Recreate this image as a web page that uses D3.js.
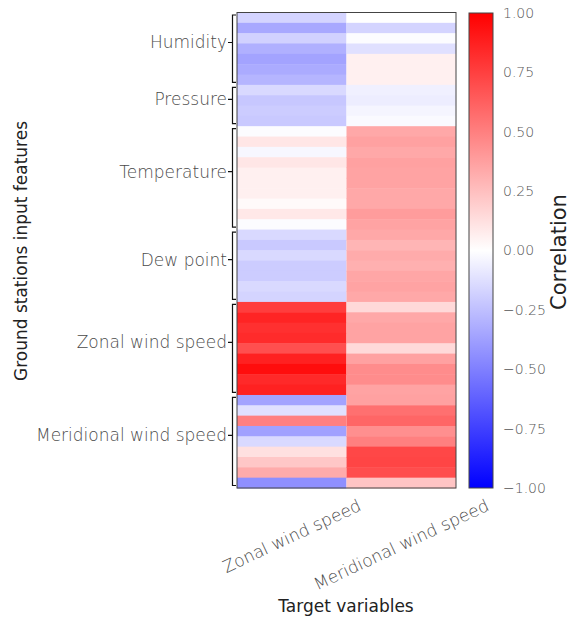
<!DOCTYPE html>
<meta charset="utf-8">
<style>
body { margin: 0; background: #fff; }
text { font-family: "DejaVu Sans", sans-serif; }
.tick-lab { fill: #4a4a4a; font-size: 17px; font-weight: 200; }
.cb-lab { fill: #555; font-size: 14px; font-weight: 200; }
.title { fill: #222; font-size: 17px; }
</style>
<svg width="571" height="619"></svg>
<script src="https://d3js.org/d3.v7.min.js"></script>
<script>

// target variables (columns)
var targets = ["Zonal wind speed", "Meridional wind speed"];

// feature groups (rows), each with a number of stations
var groups = ["Humidity", "Pressure", "Temperature", "Dew point", "Zonal wind speed", "Meridional wind speed"];
var groupSizes = [7, 4, 10, 7, 9, 9];

// correlation with zonal wind speed, top to bottom
var zonalCorr = [
  -0.17, -0.34, -0.18, -0.31, -0.36, -0.33, -0.29,
  -0.15, -0.22, -0.20, -0.21,
  -0.01, 0.10, -0.03, 0.10, 0.06, 0.06, 0.06, 0.02, 0.09, -0.01,
  -0.15, -0.21, -0.15, -0.20, -0.20, -0.15, -0.17,
  0.76, 0.86, 0.81, 0.83, 0.69, 0.87, 0.95, 0.84, 0.87,
  -0.36, -0.12, 0.50, -0.37, -0.15, 0.12, 0.22, 0.33, -0.44
];

// correlation with meridional wind speed, top to bottom
var meridionalCorr = [
  0.00, -0.17, -0.01, -0.12, 0.06, 0.06, 0.06,
  -0.06, -0.07, -0.04, -0.02,
  0.34, 0.37, 0.34, 0.37, 0.36, 0.36, 0.34, 0.34, 0.39, 0.36,
  0.34, 0.29, 0.33, 0.31, 0.35, 0.36, 0.34,
  0.15, 0.34, 0.36, 0.36, 0.15, 0.37, 0.45, 0.45, 0.36,
  0.37, 0.56, 0.60, 0.44, 0.50, 0.72, 0.73, 0.70, 0.23
];

var colorTicks = [1, 0.75, 0.5, 0.25, 0, -0.25, -0.5, -0.75, -1];

var svg = d3.select("svg");

var nRows = zonalCorr.length;
var x = d3.scaleBand().domain(targets).range([237, 456]);
var y = d3.scaleBand().domain(d3.range(nRows)).range([12.5, 488]);
var color = d3.scaleLinear().domain([-1, 0, 1]).range(["#0000ff", "#ffffff", "#ff0000"]);

// cells
var cols = [zonalCorr, meridionalCorr];
var cells = [];
cols.forEach(function(vals, j) {
  vals.forEach(function(v, i) { cells.push({t: targets[j], i: i, v: v}); });
});

svg.append("g").selectAll("rect")
  .data(cells)
  .enter().append("rect")
    .attr("x", function(d) { return x(d.t); })
    .attr("y", function(d) { return y(d.i); })
    .attr("width", x.bandwidth())
    .attr("height", y.bandwidth() + 0.5)
    .attr("fill", function(d) { return color(d.v); });

svg.append("rect")
  .attr("x", 237).attr("y", 12.5).attr("width", 219).attr("height", 475.5)
  .attr("fill", "none").attr("stroke", "#444").attr("stroke-width", 1);

// group brackets and labels (tick sits at start + (n-1)/2 rows, as in the source plot)
var start = 0;
var br = svg.append("g");
var bw = y.bandwidth();
groups.forEach(function(g, k) {
  var top = y(start) + 2.5,
      bot = y(start + groupSizes[k] - 1) + bw - 2.5,
      mid = y(0) + (start + (groupSizes[k] - 1) / 2) * bw - 1;
  br.append("path")
    .attr("d", "M236," + top + "H232.5V" + bot + "H236M232.5," + mid + "H228")
    .attr("fill", "none").attr("stroke", "#111").attr("stroke-width", 1.2);
  br.append("text")
    .attr("class", "tick-lab")
    .attr("x", 227).attr("y", mid)
    .attr("dy", "0.35em")
    .attr("text-anchor", "end")
    .text(g);
  start += groupSizes[k];
});

// x tick labels, rotated
targets.forEach(function(t) {
  var lab = svg.append("text")
    .attr("class", "tick-lab")
    .attr("text-anchor", "middle")
    .attr("dy", "0.35em")
    .text(t);
  var L = lab.node().getComputedTextLength();
  var a = 25 * Math.PI / 180;
  var h = 16;
  var cy = 497 + (L * Math.sin(a) + h * Math.cos(a)) / 2;
  lab.attr("transform", "translate(" + (x(t) + x.bandwidth() / 2) + "," + cy + ") rotate(-25)");
});

svg.append("text")
  .attr("class", "title")
  .attr("x", 346).attr("y", 612)
  .attr("text-anchor", "middle")
  .text("Target variables");

svg.append("text")
  .attr("class", "title")
  .attr("transform", "translate(27,251) rotate(-90)")
  .attr("text-anchor", "middle")
  .text("Ground stations input features");

// colorbar
var defs = svg.append("defs");
var grad = defs.append("linearGradient")
  .attr("id", "cb").attr("x1", 0).attr("y1", 1).attr("x2", 0).attr("y2", 0);
[-1, 0, 1].forEach(function(v) {
  grad.append("stop").attr("offset", (v + 1) / 2).attr("stop-color", color(v));
});

var cy = d3.scaleLinear().domain([-1, 1]).range([488, 13]);
svg.append("rect")
  .attr("x", 469).attr("y", cy(1)).attr("width", 24).attr("height", cy(-1) - cy(1))
  .attr("fill", "url(#cb)").attr("stroke", "#444").attr("stroke-width", 1);

svg.append("g").selectAll("text")
  .data(colorTicks)
  .enter().append("text")
    .attr("class", "cb-lab")
    .attr("x", 503)
    .attr("y", function(d) { return cy(d); })
    .attr("dy", "0.35em")
    .text(function(d) { return d3.format(".2f")(d).replace("-", "\u2212"); });

svg.append("text")
  .attr("transform", "translate(566,252) rotate(-90)")
  .attr("text-anchor", "middle")
  .attr("fill", "#222")
  .attr("font-size", "21px")
  .text("Correlation");

</script>
